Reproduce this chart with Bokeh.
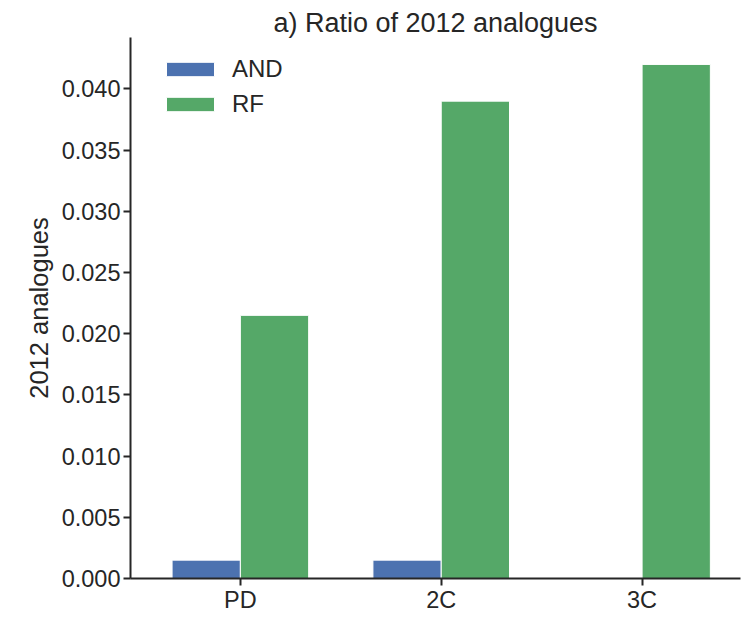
from bokeh.plotting import figure
from bokeh.models import ColumnDataSource, FixedTicker, Legend, LegendItem, Range1d, NumeralTickFormatter
from bokeh.transform import dodge
from bokeh.embed import file_html
from bokeh.resources import INLINE

categories = ["PD", "2C", "3C"]
and_values = [0.0015, 0.0015, 0.0]
rf_values = [0.0215, 0.039, 0.042]
y_ticks = [0.0, 0.005, 0.010, 0.015, 0.020, 0.025, 0.030, 0.035, 0.040]

FONT = "Liberation Sans"
TXT = "#262626"

src = ColumnDataSource(dict(x=list(range(len(categories))), AND=and_values, RF=rf_values))

p = figure(width=745, height=615, output_backend="svg", toolbar_location=None,
           x_range=Range1d(-0.547, 2.49), y_range=Range1d(0, 0.0442),
           min_border_left=130, min_border_right=5, min_border_top=37, min_border_bottom=0)
p.outline_line_color = None
p.grid.grid_line_color = None

bw = 0.34
r1 = p.vbar(x=dodge("x", -bw / 2), top="AND", width=bw, source=src,
            fill_color="#4C72B0", line_color="white", line_width=1)
r2 = p.vbar(x=dodge("x", bw / 2), top="RF", width=bw, source=src,
            fill_color="#55A868", line_color="white", line_width=1)

p.title.text = "a) Ratio of 2012 analogues"
p.title.align = "center"
p.title.text_font = FONT
p.title.text_font_size = "27px"
p.title.text_font_style = "normal"
p.title.text_color = TXT
p.title.standoff = 0
p.title.offset = 12

for ax in (p.xaxis, p.yaxis):
    ax.axis_line_color = TXT
    ax.axis_line_width = 2
    ax.major_tick_line_color = TXT
    ax.major_tick_line_width = 2
    ax.major_tick_out = 7
    ax.major_tick_in = 0
    ax.minor_tick_line_color = None
    ax.major_label_text_font = FONT
    ax.major_label_text_font_size = "23.5px"
    ax.major_label_text_color = TXT
    ax.major_label_standoff = 3
    ax.axis_label_text_font = FONT
    ax.axis_label_text_font_size = "25.5px"
    ax.axis_label_text_font_style = "normal"
    ax.axis_label_text_color = TXT

p.xaxis.major_label_standoff = 1
p.xaxis.ticker = FixedTicker(ticks=list(range(len(categories))))
p.xaxis.major_label_overrides = {i: c for i, c in enumerate(categories)}
p.yaxis.ticker = FixedTicker(ticks=y_ticks)
p.yaxis.formatter = NumeralTickFormatter(format="0.000")
p.yaxis.axis_label = "2012 analogues"
p.yaxis.axis_label_standoff = 6

legend = Legend(items=[LegendItem(label="AND", renderers=[r1]),
                       LegendItem(label="RF", renderers=[r2])],
                location=(30, 460))
legend.border_line_color = None
legend.background_fill_alpha = 0
legend.label_text_font = FONT
legend.label_text_font_size = "24px"
legend.label_text_color = TXT
legend.glyph_width = 60
legend.glyph_height = 18
legend.label_height = 28
legend.label_standoff = 12
legend.spacing = 7
legend.margin = 0
legend.padding = 0
p.add_layout(legend)

open("out.html", "w").write(file_html(p, INLINE))
